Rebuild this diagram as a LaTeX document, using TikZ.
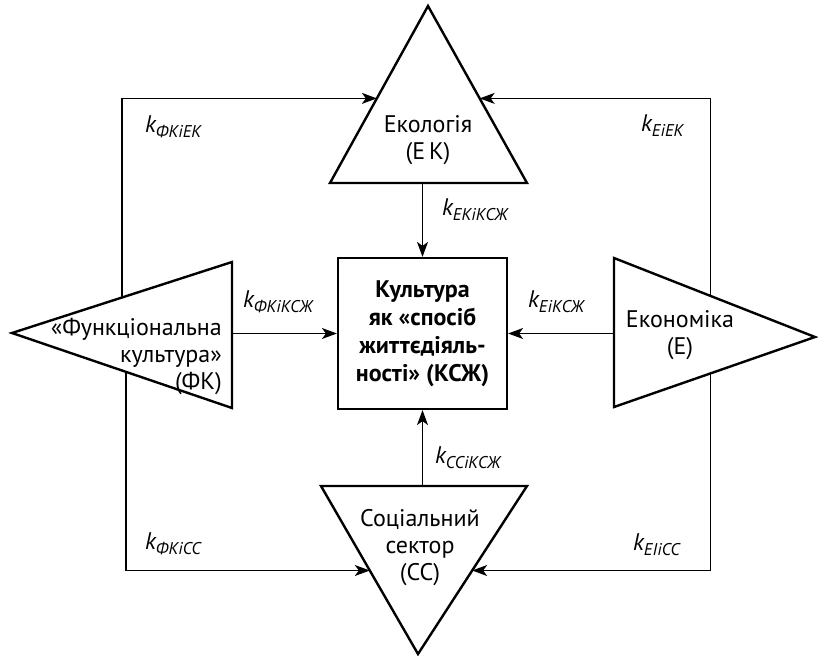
\documentclass[tikz,border=0pt]{standalone}
\usepackage{fontspec}
\setmainfont{PT Sans}
\usetikzlibrary{arrows.meta,calc}
\newcommand{\coefk}[1]{k\raisebox{-5pt}{\fontsize{17}{17}\selectfont #1}}
\tikzset{
	sidetext/.style = {align=center, inner sep=0pt, font=\fontsize{24}{27}\selectfont},
	centre/.style = {draw=black, line width=2.2pt, minimum width=169pt, minimum height=151pt, align=center, inner sep=0pt, font=\fontsize{24}{28}\selectfont\bfseries},
	tri/.style = {draw=black, line width=2.4pt},
	link/.style = {draw=black, line width=1.2pt, -{Stealth[length=15pt, width=11pt, inset=4pt]}},
	coef/.style = {anchor=west, inner sep=0pt, font=\fontsize{24}{26}\selectfont\itshape}
}
\begin{document}
\begin{tikzpicture}[x=1pt, y=-1pt]
	\useasboundingbox (0,0) rectangle (821,658);
	% corners of the four triangles
	\coordinate (ekL) at (330,183);
	\coordinate (ekR) at (527,183);
	\coordinate (ekT) at (428,6);
	\coordinate (fkT) at (12,333);
	\coordinate (fkU) at (232,262);
	\coordinate (fkD) at (232,408);
	\coordinate (eU) at (614,258);
	\coordinate (eD) at (614,407);
	\coordinate (eT) at (815,337);
	\coordinate (ccL) at (321,486);
	\coordinate (ccR) at (527,486);
	\coordinate (ccB) at (418,654);
	\draw[tri] (ekL) -- (ekT) -- (ekR) -- cycle;
	\draw[tri] (fkT) -- (fkU) -- (fkD) -- cycle;
	\draw[tri] (eU) -- (eT) -- (eD) -- cycle;
	\draw[tri] (ccL) -- (ccR) -- (ccB) -- cycle;

	\node[centre] (ksj) at (422.5,333.5) {Культура\\як «спосіб\\життєдіяль-\\ності» (КСЖ)};
	\node[sidetext] (ek) at (428,140) {Екологія\\(Е\,К)};
	\node[sidetext, align=right, anchor=east] (fk) at (222,356) {«Функціональна\\культура»\\(ФК)};
	\node[sidetext] (e) at (680,335) {Економіка\\(Е)};
	\node[sidetext] (cc) at (420,548) {Соціальний\\сектор\\(СС)};

	% where the outer loops meet the triangles
	\coordinate (ekA) at ($(ekL)!0.478!(ekT)$);
	\coordinate (ekB) at ($(ekR)!0.478!(ekT)$);
	\coordinate (fkA) at ($(fkT)!0.5!(fkU)$);
	\coordinate (fkB) at ($(fkT)!0.518!(fkD)$);
	\coordinate (eA) at ($(eU)!0.48!(eT)$);
	\coordinate (eB) at ($(eD)!0.48!(eT)$);
	\coordinate (ccA) at ($(ccL)!0.503!(ccB)$);
	\coordinate (ccC) at ($(ccR)!0.503!(ccB)$);

	\draw[link] (fkA) |- (ekA);
	\draw[link] (eA) |- (ekB);
	\draw[link] (fkB) |- (ccA);
	\draw[link] (eB) |- (ccC);
	\draw[link] (ksj.north |- ekL) -- (ksj.north);
	\draw[link] (ksj.south |- ccL) -- (ksj.south);
	\draw[link] (ksj.west -| fkU) -- (ksj.west);
	\draw[link] (ksj.east -| eU) -- (ksj.east);

	\node[coef] (k1) at (145,127) {\coefk{ФКіЕК}};
	\node[coef] (k2) at (641,126) {\coefk{ЕіЕК}};
	\node[coef] (k3) at (442,210) {\coefk{ЕКіКСЖ}};
	\node[coef] (k4) at (243,302) {\coefk{ФКіКСЖ}};
	\node[coef] (k5) at (528,302) {\coefk{ЕіКСЖ}};
	\node[coef] (k6) at (435,458) {\coefk{ССіКСЖ}};
	\node[coef] (k7) at (145,544) {\coefk{ФКіСС}};
	\node[coef] (k8) at (633,545) {\coefk{ЕІіСС}};
\end{tikzpicture}
\end{document}
